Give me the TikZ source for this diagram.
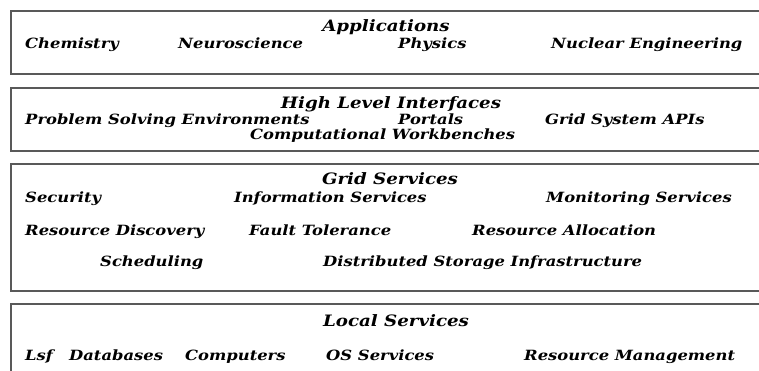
\documentclass[tikz,border=0pt]{standalone}
\usepackage{fontspec}
\setmainfont{DejaVu Serif}
\newfontfamily\layerfont[FakeStretch=1.16]{DejaVu Serif}
\begin{document}
\begin{tikzpicture}[x=1pt,y=-1pt,
  layer/.style={draw=black!65, line width=1.3pt},
  title/.style={font=\layerfont\fontsize{15.7}{16}\selectfont\bfseries\itshape, anchor=base, inner sep=0pt},
  item/.style={font=\layerfont\fontsize{14.1}{14}\selectfont\bfseries\itshape, anchor=base west, inner sep=0pt}]
\clip (0,0) rectangle (759,371);
\fill[white] (0,0) rectangle (759,371);
% layer frames, open on the right (and the last one at the bottom)
\draw[layer] (765,11) -- (11,11) -- (11,74) -- (765,74);
\draw[layer] (765,88) -- (11,88) -- (11,151) -- (765,151);
\draw[layer] (765,164) -- (11,164) -- (11,291) -- (765,291);
\draw[layer] (765,304) -- (11,304) -- (11,380);
% Applications
\node[title] (app) at (386,31.7) {Applications};
\node[item] (chem) at (25,48.3) {Chemistry};
\node[item] (neuro) at (178,48.3) {Neuroscience};
\node[item] (phys) at (398,48.3) {Physics};
\node[item] (nuc) at (551,48.3) {Nuclear Engineering};
% High level interfaces
\node[title] (hli) at (391,108.3) {High Level Interfaces};
\node[item] (pse) at (25,125) {Problem Solving Environments};
\node[item] (port) at (398,125) {Portals};
\node[item] (gapi) at (545,125) {Grid System APIs};
\node[item] (cwb) at (250,139.5) {Computational Workbenches};
% Grid services
\node[title] (gs) at (390,185) {Grid Services};
\node[item] (sec) at (25,203) {Security};
\node[item] (info) at (234,203) {Information Services};
\node[item] (mon) at (546,203) {Monitoring Services};
\node[item] (rdisc) at (25,235) {Resource Discovery};
\node[item] (fault) at (249,235) {Fault Tolerance};
\node[item] (ralloc) at (472,235) {Resource Allocation};
\node[item] (sched) at (100,266) {Scheduling};
\node[item] (dsi) at (323,266) {Distributed Storage Infrastructure};
% Local services
\node[title] (ls) at (396,326) {Local Services};
\node[item] (lsf) at (25,360) {Lsf};
\node[item] (db) at (69,360) {Databases};
\node[item] (comp) at (185,360) {Computers};
\node[item] (os) at (326,360) {OS Services};
\node[item] (rman) at (524,360) {Resource Management};
\end{tikzpicture}
\end{document}
